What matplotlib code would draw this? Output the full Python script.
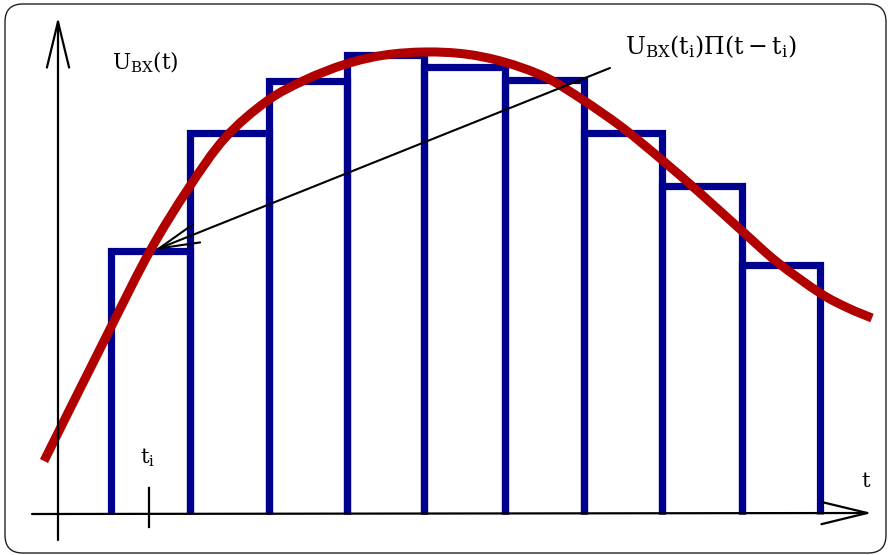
import matplotlib
matplotlib.use("Agg")
import matplotlib.pyplot as plt
from matplotlib.patches import FancyBboxPatch, ArrowStyle, PathPatch
from matplotlib.path import Path

plt.rcParams['mathtext.fontset'] = 'dejavuserif'

# ---- data (units: pixels from the axis origin) ----
bar_edges = [53, 131.5, 210.5, 288.5, 366, 447, 525.5, 604, 683.5, 762]
bar_heights = [263, 381, 433, 459, 447, 434, 381, 328, 249]

curve_t = [-14, 51, 92, 130, 167, 209, 247, 288, 327, 367, 407, 446, 487,
           525, 565, 604, 642, 683, 719, 762, 790, 814]
curve_u = [53, 183, 263, 325, 376, 413, 434, 450, 459, 462, 460, 452, 437,
           414, 386, 354, 321, 284, 252, 221, 206, 196]

label_u = r'$\mathrm{U}_{\mathrm{BX}}(\mathrm{t})$'
label_pulse = r'$\mathrm{U}_{\mathrm{BX}}(\mathrm{t_i})\Pi(\mathrm{t}-\mathrm{t_i})$'
label_ti = r'$\mathrm{t_i}$'
label_t = r'$\mathrm{t}$'
ti_pos = 91

fig = plt.figure(figsize=(8.89, 5.55), dpi=100)
ax = fig.add_axes([0, 0, 1, 1])
ax.set_xlim(-58, 831)
ax.set_ylim(-41, 514)
ax.axis('off')

# frame
frame = FancyBboxPatch((5 / 889, 2 / 555), 881 / 889, 549 / 555,
                       boxstyle="round,pad=0,rounding_size=0.02",
                       transform=fig.transFigure, fill=False,
                       edgecolor='#222222', linewidth=1.0, mutation_aspect=889 / 555)
fig.patches.append(frame)

navy = '#00008f'
red = '#b00000'

# bars (sides and top only)
for i, h in enumerate(bar_heights):
    l, r = bar_edges[i], bar_edges[i + 1]
    ax.plot([l, l, r, r], [0, h, h, 0], color=navy, lw=5.2,
            solid_joinstyle='miter', solid_capstyle='butt', zorder=2)

# smooth curve through the read points (Catmull-Rom as cubic Bezier path)
pts = list(zip(curve_t, curve_u))
verts = [pts[0]]
codes = [Path.MOVETO]
n = len(pts)
for i in range(n - 1):
    p0 = pts[i - 1] if i > 0 else pts[i]
    p1 = pts[i]
    p2 = pts[i + 1]
    p3 = pts[i + 2] if i + 2 < n else pts[i + 1]
    c1 = (p1[0] + (p2[0] - p0[0]) / 6, p1[1] + (p2[1] - p0[1]) / 6)
    c2 = (p2[0] - (p3[0] - p1[0]) / 6, p2[1] - (p3[1] - p1[1]) / 6)
    verts += [c1, c2, p2]
    codes += [Path.CURVE4] * 3
ax.add_patch(PathPatch(Path(verts, codes), fill=False, edgecolor=red, lw=6.5,
                       capstyle='butt', joinstyle='round', zorder=3))

# axes with open arrow heads
ax_style = ArrowStyle("->", head_length=33, head_width=8)
ax.annotate('', xy=(814, 1), xytext=(-26, 0),
            arrowprops=dict(arrowstyle=ax_style, lw=1.6, color='black',
                            shrinkA=0, shrinkB=0, mutation_scale=1), zorder=4)
ax.annotate('', xy=(0, 497), xytext=(0, -26),
            arrowprops=dict(arrowstyle=ax_style, lw=1.6, color='black',
                            shrinkA=0, shrinkB=0, mutation_scale=1), zorder=4)

# tick t_i
ax.plot([ti_pos, ti_pos], [-13, 26], color='black', lw=1.6, zorder=4)

# annotation arrow
ann_style = ArrowStyle("->", head_length=29, head_width=7)
ax.annotate('', xy=(97, 264), xytext=(552, 446),
            arrowprops=dict(arrowstyle=ann_style, lw=1.5, color='black',
                            shrinkA=0, shrinkB=0, mutation_scale=1), zorder=5)

# texts
ax.text(54, 452, label_u, fontsize=15.5, ha='left', va='center')
ax.text(567, 467, label_pulse, fontsize=17, ha='left', va='center')
ax.text(ti_pos - 2, 56, label_ti, fontsize=15, ha='center', va='center')
ax.text(808, 33, label_t, fontsize=15, ha='center', va='center')

fig.savefig('out.png', dpi=100)
